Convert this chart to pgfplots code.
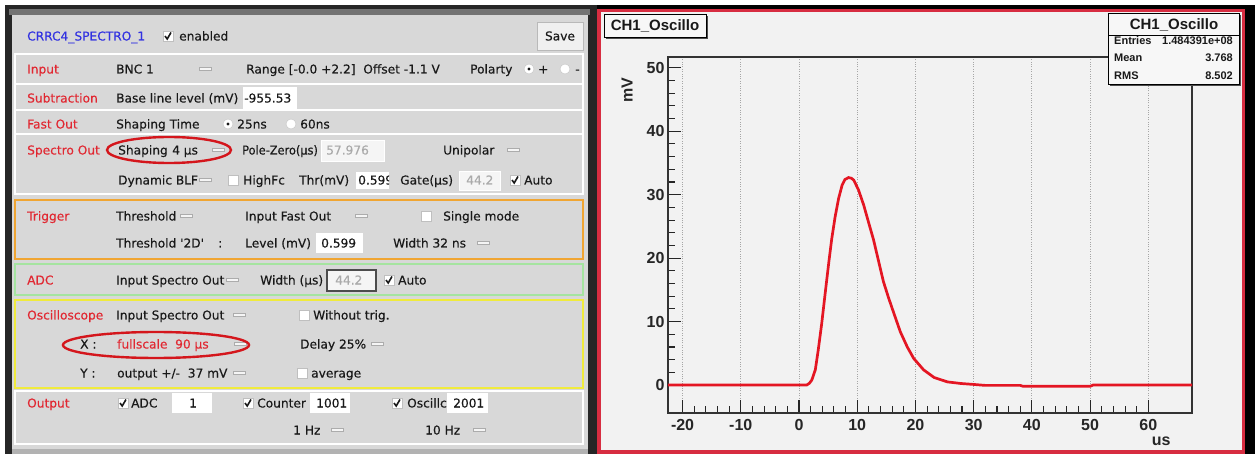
\documentclass[border=0pt]{standalone}
\usepackage{fontspec}
\usepackage{pgfplots}
\pgfplotsset{compat=1.18}
\setmainfont{DejaVu Sans}
\newfontfamily\gui[FakeBold=0.35]{DejaVu Sans}
\newfontfamily\rootf{Liberation Sans}

\definecolor{panel}{RGB}{216,216,216}
\definecolor{lab}{RGB}{225,40,50}
\definecolor{ttl}{RGB}{50,50,225}
\definecolor{txt}{RGB}{25,25,25}
\definecolor{dis}{RGB}{170,170,170}
\definecolor{orn}{RGB}{240,165,50}
\definecolor{grn}{RGB}{165,228,160}
\definecolor{yel}{RGB}{240,235,60}
\definecolor{rootbg}{RGB}{242,242,242}
\definecolor{rred}{RGB}{215,45,65}
\definecolor{curve}{RGB}{228,22,35}
\definecolor{ell}{RGB}{212,22,28}

\newcommand\gf{\gui\fontsize{12.2}{14}\selectfont}
% text at (x, y-centre)
\newcommand\T[4][txt]{\node[anchor=base west,inner sep=0pt,text=#1,font=\gf] at (#2,#3+4.5) {#4};}
% slider, checkbox, radio
\newcommand\SL[2]{\draw[fill=gray!8,draw=gray!65,line width=0.8pt] (#1,#2-1.8) rectangle (#1+12,#2+1.8);}
\newcommand\CB[2]{\draw[fill=white,draw=gray!50] (#1,#2-5) rectangle (#1+10,#2+5);}
\newcommand\CK[2]{\CB{#1}{#2}\draw[line width=1.6pt,txt] (#1+2,#2) -- (#1+4.2,#2+3) -- (#1+8,#2-3.5);}
\newcommand\RB[2]{\draw[fill=white,draw=gray!45] (#1,#2) circle (5pt);}
\newcommand\RD[2]{\RB{#1}{#2}\fill[txt] (#1,#2) circle (1.6pt);}
\newcommand\WB[4]{\fill[white] (#1,#2) rectangle (#3,#4);}
\newcommand\GB[4]{\draw[fill=gray!8,draw=white] (#1,#2) rectangle (#3,#4);}

\begin{document}
\begin{tikzpicture}
\useasboundingbox (0,0) rectangle (1255pt,-454pt);
\fill[white] (0,0) rectangle (1255pt,-454pt);

\begin{scope}[x=1pt,y=-1pt]
% ---- left panel frame
\fill[black!85] (5,5) rectangle (597,454);
\fill[black!55] (9,9) rectangle (590,15);
\fill[panel] (12,15) rectangle (588,449);
\fill[gray!60] (12,449) rectangle (588,454);
% ---- right panel frame
\fill[black] (597,5) rectangle (1255,454);
\fill[rred] (597,9) rectangle (1245,454);
\fill[rootbg] (601,12) rectangle (1242,450);

% ---- header
\T[ttl]{27}{36}{CRRC4\_SPECTRO\_1}
\CK{163}{36}\T{179}{36}{enabled}
\draw[fill=gray!12,draw=gray!55] (537,22) rectangle (583,50);
\node[font=\gf,text=txt] at (560,36) {Save};

% ---- row frames
\draw[white,line width=2pt] (15,54) rectangle (583,194);
\draw[white,line width=2pt] (15,84) -- (583,84) (15,110) -- (583,110) (15,134) -- (583,134);
\draw[orn,line width=2pt] (15,200) rectangle (583,259);
\draw[grn,line width=2pt] (15,264) rectangle (583,295);
\draw[yel,line width=2pt] (15,300) rectangle (583,388);
\draw[white,line width=2pt] (15,391) rectangle (583,444);

% ---- Input
\T[lab]{27}{69}{Input}
\T{116}{69}{BNC 1}\SL{199}{69}
\T{246}{69}{Range [-0.0 +2.2]\ \ Offset -1.1 V}
\T{470}{69}{Polarty}
\RD{529}{69}\T{538}{69}{+}
\RB{565}{69}\T{575}{69}{-}
% ---- Subtraction
\T[lab]{27}{98}{Subtraction}
\T{116}{98}{Base line level (mV)}
\WB{243}{87}{297}{109}\T{244}{98}{-955.53}
% ---- Fast Out
\T[lab]{27}{124}{Fast Out}
\T{116}{124}{Shaping Time}
\RD{228}{124}\T{237}{124}{25ns}
\RB{291}{124}\T{300}{124}{60ns}
% ---- Spectro Out
\T[lab]{27}{150}{Spectro Out}
\T{118}{150}{Shaping}\T{172}{150}{4 µs}\SL{212}{150}
\draw[ell,line width=2.4pt] (169,150) ellipse [x radius=62pt,y radius=13pt];
\T{242}{150}{\scalebox{0.93}[1]{Pole-Zero(µs)}}
\GB{321}{140}{384}{161}\T[dis]{326}{150}{57.976}
\T{443}{150}{Unipolar}\SL{507}{150}
\T{118}{180}{Dynamic BLF}\SL{199}{180}
\CB{228}{180}\T{243}{180}{HighFc}
\T{299}{180}{Thr(mV)}
\WB{356}{172}{389}{189}
\begin{scope}\clip (356,172) rectangle (389,189);\T{358}{180}{0.599}\end{scope}
\T{400}{180}{Gate(µs)}
\GB{459}{171}{500}{190}\T[dis]{466}{180}{44.2}
\CK{510}{180}\T{524}{180}{Auto}
% ---- Trigger
\T[lab]{27}{216}{Trigger}
\T{116}{216}{Threshold}\SL{180}{216}
\T{245}{216}{Input Fast Out}\SL{355}{216}
\CB{421}{216}\T{443}{216}{Single mode}
\T{116}{243}{Threshold '2D'}\T{218}{243}{:}
\T{245}{243}{Level (mV)}
\WB{316}{233}{363}{253}\T{321}{243}{0.599}
\T{393}{243}{Width 32 ns}\SL{477}{243}
% ---- ADC
\T[lab]{27}{280}{ADC}
\T{116}{280}{Input Spectro Out}\SL{226}{280}
\T{260}{280}{Width (µs)}
\draw[fill=gray!8,draw=black!70,line width=1.1pt] (327,270) rectangle (376,291);
\T[dis]{335}{280}{44.2}
\CK{384}{280}\T{398}{280}{Auto}
% ---- Oscilloscope
\T[lab]{27}{315}{Oscilloscope}
\T{116}{315}{Input Spectro Out}\SL{233}{315}
\CB{299}{315}\T{313}{315}{Without trig.}
\T{80}{344}{X :}
\T[lab]{117}{344}{fullscale\ \ 90 µs}\SL{234}{344}
\draw[ell,line width=2.4pt] (156,345) ellipse [x radius=93pt,y radius=13pt];
\T{300}{344}{Delay 25\%}\SL{371}{344}
\T{80}{373}{Y :}
\T{117}{373}{output +/-\ \ 37 mV}\SL{233}{373}
\CB{297}{373}\T{311}{373}{average}
% ---- Output
\T[lab]{27}{403}{Output}
\CK{118}{403}\T{131}{403}{ADC}
\WB{172}{393}{212}{413}\T{189}{403}{1}
\CK{243}{403}\T{257}{403}{Counter}
\WB{310}{393}{350}{413}\T{316}{403}{1001}
\CK{392}{403}\T{407}{403}{Oscillc}
\WB{447}{393}{488}{413}\T{453}{403}{2001}
\T{293}{430}{1 Hz}\SL{331}{430}
\T{425}{430}{10 Hz}\SL{473}{430}
\end{scope}

% ---- oscilloscope histogram
\begin{axis}[
  at={(668pt,-413pt)}, anchor=south west,
  width=524pt, height=356pt, scale only axis,
  xmin=-22.5, xmax=67.5, ymin=-4.4, ymax=51.7,
  xtick={-20,-10,0,10,20,30,40,50,60},
  xticklabels={-20,-10,0,10,20,30,40,50,60},
  ytick={0,10,20,30,40,50},
  yticklabels={0,10,20,30,40,50},
  minor x tick num=4, minor y tick num=4,
  tick align=inside, tick pos=left,
  major tick length=13pt, minor tick length=7pt,
  tick style={black!85,line width=1.1pt},
  axis line style={black!80,line width=1.2pt},
  xmajorgrids,
  major x grid style={gray!70,dash pattern=on 1pt off 1.4pt,line width=0.8pt},
  tick label style={font=\rootf\bfseries\fontsize{16}{16}\selectfont,text=black!85},
  xticklabel style={yshift=-3pt},
  label style={font=\rootf\bfseries\fontsize{16}{16}\selectfont,text=black!85},
  xlabel={us},
  xlabel style={at={(rel axis cs:0.941,0)},anchor=center,yshift=-28pt},
  ylabel={mV},
  ylabel style={at={(axis description cs:-0.078,0.907)},anchor=center},
]
\addplot[curve,line width=2.7pt] coordinates {
 (-22.5,0) (1.3,0) (1.8,0.3) (2.2,0.8) (2.8,2.4) (3.3,5.5) (3.9,9.7)
 (4.5,14.5) (5.1,19.2) (5.6,22.9) (6.2,26.5) (6.8,29.4) (7.4,31.5)
 (7.9,32.4) (8.5,32.7) (9.0,32.6) (9.4,32.3) (10.2,30.8) (11.1,28.4)
 (11.9,25.8) (12.8,22.9) (13.7,19.4) (14.5,16.3) (15.4,13.7) (16.3,11.3)
 (17.4,8.4) (18.6,6.0) (19.7,4.2) (21.4,2.4) (23.2,1.2) (25.5,0.5)
 (27.8,0.25) (30.0,0.1) (32,-0.05) (38,-0.05) (38.5,-0.2) (50,-0.2)
 (50.5,0) (67.5,0)
};
\end{axis}

% ---- title and statistics boxes
\begin{scope}[x=1pt,y=-1pt]
\fill[black!70] (606,16) rectangle (708,39);
\draw[fill=rootbg!60!white,draw=black,line width=0.8pt] (604,14) rectangle (706,37);
\node[font=\rootf\bfseries\fontsize{15}{15}\selectfont,text=black!90] at (655,25.5) {CH1\_Oscillo};
\fill[black!70] (1110,15) rectangle (1241,86);
\draw[fill=rootbg!60!white,draw=black,line width=0.8pt] (1108,13) rectangle (1239,84);
\draw[black,line width=0.8pt] (1108,35) -- (1239,35);
\node[font=\rootf\bfseries\fontsize{15}{15}\selectfont,text=black!90] at (1174,24.5) {CH1\_Oscillo};
\begin{scope}[every node/.style={font=\rootf\bfseries\fontsize{11}{11}\selectfont,text=black!90,inner sep=0pt}]
\node[anchor=base west] at (1114,45) {Entries};
\node[anchor=base east] at (1233,45) {1.484391e+08};
\node[anchor=base west] at (1114,62) {Mean};
\node[anchor=base east] at (1233,62) {3.768};
\node[anchor=base west] at (1114,80) {RMS};
\node[anchor=base east] at (1233,80) {8.502};
\end{scope}
\end{scope}
\end{tikzpicture}
\end{document}
